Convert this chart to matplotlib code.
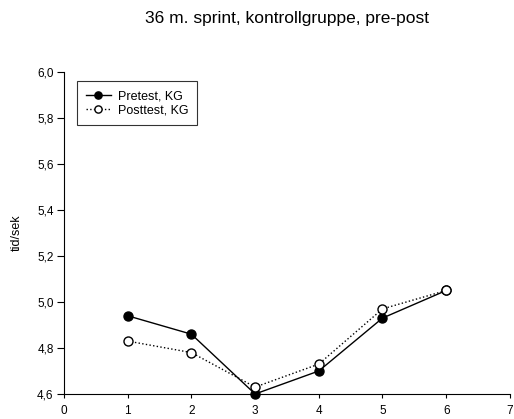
import numpy as np
import matplotlib.pyplot as plt

plt.rcParams['font.family'] = ['Liberation Sans', 'DejaVu Sans']

# data
x = [1, 2, 3, 4, 5, 6]
pretest = [4.94, 4.86, 4.60, 4.70, 4.93, 5.05]
posttest = [4.83, 4.78, 4.63, 4.73, 4.97, 5.05]

fig = plt.figure(figsize=(5.14, 4.19), dpi=100)
ax = fig.add_axes([0.1245, 0.0597, 0.8675, 0.7685])

ax.plot(x, pretest, color='black', linestyle='-', linewidth=1.0, marker='o',
        markersize=6.5, markerfacecolor='black', markeredgecolor='black',
        label='Pretest, KG', clip_on=False, zorder=3)
ax.plot(x, posttest, color='black', linestyle=':', linewidth=1.0, marker='o',
        markersize=6.5, markerfacecolor='white', markeredgecolor='black',
        label='Posttest, KG', clip_on=False, zorder=4)

ax.set_xlim(0, 7)
ax.set_ylim(4.6, 6.0)
ax.set_xticks(range(0, 8))
yt = np.arange(4.6, 6.01, 0.2)
ax.set_yticks(yt)
ax.set_yticklabels([f'{v:.1f}'.replace('.', ',') for v in yt])
ax.tick_params(direction='out', labelsize=8.5, width=0.8)
ax.tick_params(axis='y', length=5, pad=2.5)
ax.tick_params(axis='x', length=3, pad=5)
ax.spines['top'].set_visible(False)
ax.spines['right'].set_visible(False)
ax.set_ylabel('tid/sek', fontsize=9, labelpad=10)

leg = ax.legend(loc='upper left', fontsize=9, frameon=True, fancybox=False,
                edgecolor='black', handlelength=2.0, borderpad=0.7,
                bbox_to_anchor=(0.015, 0.99), labelspacing=0.15,
                markerscale=0.8, handletextpad=0.6)
leg.get_frame().set_linewidth(0.8)

fig.text(0.558, 0.957, '36 m. sprint, kontrollgruppe, pre-post', ha='center',
         va='center', fontsize=12.5)

fig.savefig('out.png', dpi=100)
